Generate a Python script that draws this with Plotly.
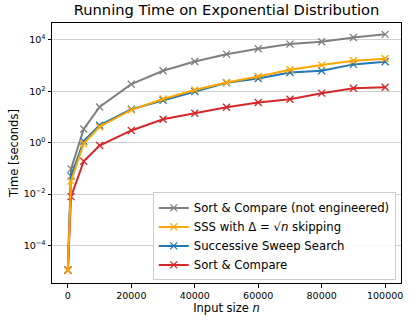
import plotly.graph_objects as go

n = [0, 1000, 5000, 10000, 20000, 30000, 40000, 50000, 60000, 70000, 80000, 90000, 100000]

sc_not_eng = [1.1e-5, 0.096, 3.4, 24.5, 190, 630, 1450, 2800, 4550, 6900, 8500, 12500, 16500]
sss_sqrt = [1.07e-5, 0.032, 0.93, 4.2, 19, 50, 112, 220, 380, 690, 1050, 1540, 1850]
sss = [1.1e-5, 0.05, 1.15, 4.8, 20, 45, 98, 215, 316, 540, 630, 1120, 1420]
sc = [1.1e-5, 0.008, 0.19, 0.78, 3.0, 8.2, 14, 24, 37, 49, 85, 132, 145]

series = [
    # name, values, colour, legend rank (orange drawn last, like the original)
    ("Sort & Compare (not engineered)", sc_not_eng, "#7f7f7f", 1),
    ("Successive Sweep Search", sss, "#1f77b4", 3),
    ("Sort & Compare", sc, "#d62728", 4),
    ("SSS with Δ = √<i>n</i> skipping", sss_sqrt, "#ffa500", 2),
]

fig = go.Figure()
for name, vals, col, rank in series:
    fig.add_trace(go.Scatter(
        x=n, y=vals, name=name, mode="lines+markers", legendrank=rank,
        line=dict(color=col, width=2),
        marker=dict(symbol="x-thin", size=7, line=dict(color=col, width=1.3)),
    ))

ytick_exp = [-4, -2, 0, 2, 4]

fig.update_layout(
    width=411, height=324,
    margin=dict(l=52, r=10, t=23, b=41),
    paper_bgcolor="white", plot_bgcolor="white",
    font=dict(family="DejaVu Sans", size=10, color="black"),
    title=dict(text="Running Time on Exponential Distribution", x=0.5, xref="paper",
               xanchor="center", y=0.985, yanchor="top", font=dict(size=14.7)),
    legend=dict(x=0.985, y=0.01, xanchor="right", yanchor="bottom",
                bgcolor="rgba(255,255,255,0.85)", bordercolor="#cccccc", borderwidth=1,
                font=dict(size=11.7), tracegroupgap=0, itemwidth=30),
)
fig.update_xaxes(
    range=[-5000, 105000], tickvals=[0, 20000, 40000, 60000, 80000, 100000],
    ticktext=["0", "20000", "40000", "60000", "80000", "100000"],
    ticks="outside", ticklen=3.5, tickcolor="black", showgrid=False,
    showline=True, linecolor="black", linewidth=1, mirror=True, zeroline=False,
    automargin=False,
    title=dict(text="Input size <i>n</i>", font=dict(size=11.5), standoff=2),
    tickfont=dict(size=9.5),
)
fig.update_yaxes(
    type="log", range=[-5.46, 4.66],
    tickvals=[10 ** e for e in ytick_exp],
    ticktext=["10<sup>%s</sup>" % (str(e).replace("-", "−")) for e in ytick_exp],
    ticks="outside", ticklen=3.5, tickcolor="black",
    showgrid=True, gridcolor="#cfcfcf", gridwidth=1,
    showline=True, linecolor="black", linewidth=1, mirror=True, zeroline=False,
    automargin=False,
    title=dict(text="Time [seconds]", font=dict(size=11.5), standoff=2),
    tickfont=dict(size=9.5),
)

# page body has a default 8px margin; drop it so the figure fills the window
fig.write_html("out.html", config={"displayModeBar": False},
               post_script="document.body.style.margin='0';")
